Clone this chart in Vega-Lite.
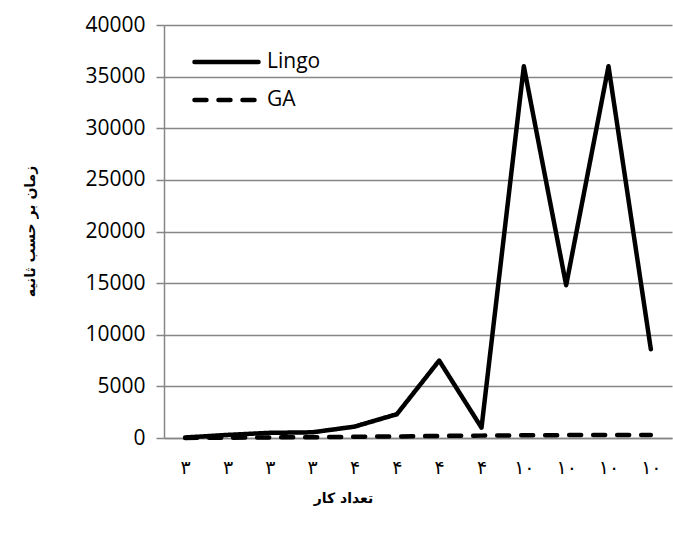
{
  "$schema": "https://vega.github.io/schema/vega-lite/v6.json",
  "autosize": {"type": "none"},
  "width": 508,
  "height": 413,
  "padding": {"left": 164, "top": 25, "right": 1, "bottom": 108},
  "background": "white",
  "config": {"view": {"stroke": null}},
  "data": {
    "values": [
      {"i": 1, "series": "Lingo", "value": 50},
      {"i": 2, "series": "Lingo", "value": 300},
      {"i": 3, "series": "Lingo", "value": 500},
      {"i": 4, "series": "Lingo", "value": 550},
      {"i": 5, "series": "Lingo", "value": 1100},
      {"i": 6, "series": "Lingo", "value": 2300},
      {"i": 7, "series": "Lingo", "value": 7500},
      {"i": 8, "series": "Lingo", "value": 1000},
      {"i": 9, "series": "Lingo", "value": 36000},
      {"i": 10, "series": "Lingo", "value": 14800},
      {"i": 11, "series": "Lingo", "value": 36000},
      {"i": 12, "series": "Lingo", "value": 8600},
      {"i": 1, "series": "GA", "value": 10},
      {"i": 2, "series": "GA", "value": 30},
      {"i": 3, "series": "GA", "value": 60},
      {"i": 4, "series": "GA", "value": 80},
      {"i": 5, "series": "GA", "value": 120},
      {"i": 6, "series": "GA", "value": 150},
      {"i": 7, "series": "GA", "value": 200},
      {"i": 8, "series": "GA", "value": 230},
      {"i": 9, "series": "GA", "value": 260},
      {"i": 10, "series": "GA", "value": 280},
      {"i": 11, "series": "GA", "value": 280},
      {"i": 12, "series": "GA", "value": 280}
    ]
  },
  "mark": {"type": "line", "strokeWidth": 4.5, "strokeCap": "round", "strokeJoin": "round", "color": "black"},
  "encoding": {
    "x": {
      "field": "i",
      "type": "ordinal",
      "scale": {"type": "point", "padding": 0.5},
      "axis": {
        "title": "تعداد کار",
        "titleFont": "DejaVu Sans",
        "titleFontSize": 14,
        "titleFontWeight": "bold",
        "titleColor": "black",
        "titleX": 179,
        "titleY": 60,
        "titleAlign": "center",
        "titleBaseline": "middle",
        "labelAngle": 0,
        "labelExpr": "['','۳','۳','۳','۳','۴','۴','۴','۴','۱۰','۱۰','۱۰','۱۰'][datum.value]",
        "labelFont": "DejaVu Sans",
        "labelFontSize": 19,
        "labelColor": "black",
        "labelPadding": 20,
        "ticks": false,
        "grid": false,
        "domainColor": "#868686",
        "domainWidth": 1.5
      }
    },
    "y": {
      "field": "value",
      "type": "quantitative",
      "scale": {"domain": [0, 40000], "nice": false},
      "axis": {
        "values": [0, 5000, 10000, 15000, 20000, 25000, 30000, 35000, 40000],
        "format": "d",
        "title": "زمان بر حسب ثانیه",
        "titleFont": "DejaVu Sans",
        "titleFontSize": 14,
        "titleFontWeight": "bold",
        "titleColor": "black",
        "titleAngle": -90,
        "titleX": -134,
        "titleY": 206,
        "titleAlign": "center",
        "titleBaseline": "middle",
        "labelFont": "Open Sans",
        "labelFontSize": 21,
        "labelColor": "black",
        "labelPadding": 11,
        "tickSize": 8,
        "tickColor": "#868686",
        "tickWidth": 1.5,
        "grid": true,
        "gridColor": "#868686",
        "gridWidth": 1.5,
        "domainColor": "#868686",
        "domainWidth": 1.5
      }
    },
    "strokeDash": {
      "field": "series",
      "type": "nominal",
      "scale": {"domain": ["Lingo", "GA"], "range": [[1, 0], [12, 12]]},
      "legend": {
        "title": null,
        "orient": "none",
        "legendX": 28,
        "legendY": 18,
        "symbolType": "stroke",
        "symbolSize": 4100,
        "symbolStrokeWidth": 4.5,
        "symbolStrokeColor": "black",
        "labelFont": "Open Sans",
        "labelFontSize": 21,
        "labelColor": "black",
        "labelOffset": 6,
        "clipHeight": 38,
        "rowPadding": 0,
        "encode": {"symbols": {"update": {"strokeCap": {"value": "round"}}}}
      }
    }
  }
}
